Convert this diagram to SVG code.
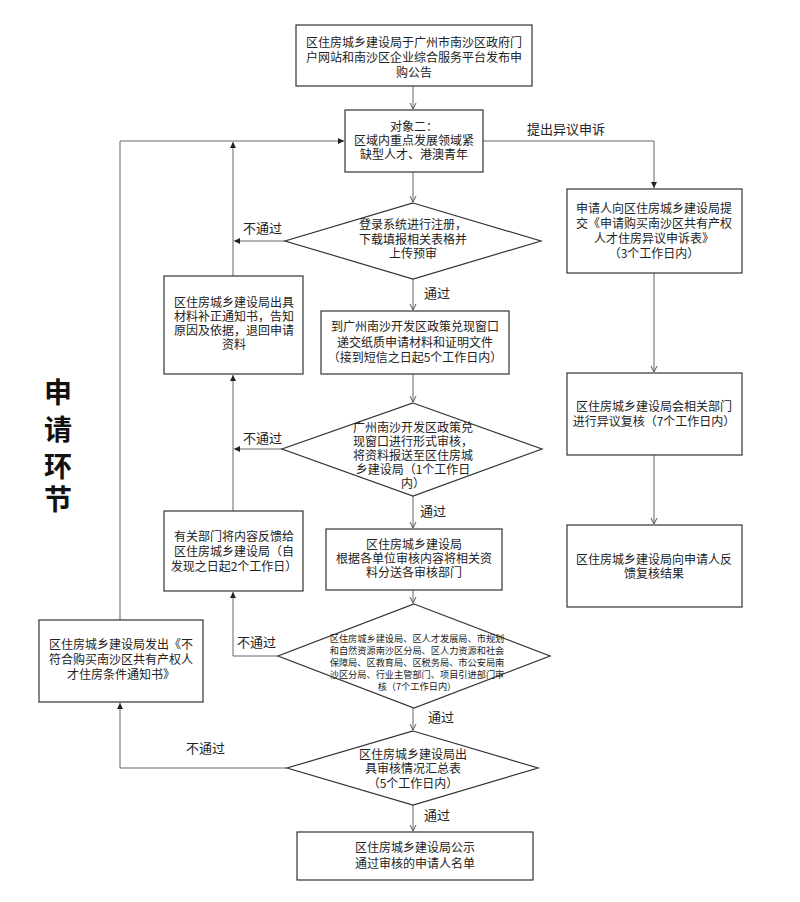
<svg xmlns="http://www.w3.org/2000/svg" width="800" height="902" viewBox="0 0 800 902">
<defs>
<style>
.box{fill:#fff;stroke:#333;stroke-width:1.2}
.t{font-family:"Noto Sans CJK SC","Liberation Sans",sans-serif;font-size:12px;fill:#222;text-anchor:middle}
.s{font-size:9.2px}
.lb{font-family:"Noto Sans CJK SC","Liberation Sans",sans-serif;font-size:13px;fill:#222}
.big{font-family:"Noto Sans CJK SC",sans-serif;font-size:28px;font-weight:bold;fill:#111;text-anchor:middle}
.ln{fill:none;stroke:#666;stroke-width:1}
</style>
<marker id="v" markerWidth="8" markerHeight="8" refX="7" refY="4" orient="auto" markerUnits="userSpaceOnUse"><path d="M1,1 L7,4 L1,7" fill="none" stroke="#555" stroke-width="1"/></marker>
<marker id="f" markerWidth="7" markerHeight="6" refX="6" refY="3" orient="auto" markerUnits="userSpaceOnUse"><path d="M0,0 L6,3 L0,6 z" fill="#222"/></marker>
</defs>
<rect width="800" height="902" fill="#fff"/>

<g id="connectors">
<path class="ln" d="M413,86 V109" marker-end="url(#v)"/>
<path class="ln" d="M413,172 V202" marker-end="url(#v)"/>
<path class="ln" d="M413,279 V310" marker-end="url(#v)"/>
<path class="ln" d="M413,374 V402" marker-end="url(#v)"/>
<path class="ln" d="M413,496 V528" marker-end="url(#v)"/>
<path class="ln" d="M413,590 V603" marker-end="url(#v)"/>
<path class="ln" d="M413,708 V730" marker-end="url(#v)"/>
<path class="ln" d="M413,805 V831" marker-end="url(#v)"/>
<path class="ln" d="M120,620 V141 H344" marker-end="url(#f)"/>
<path class="ln" d="M233,276 V142" marker-end="url(#f)"/>
<path class="ln" d="M285,241 H234" marker-end="url(#f)"/>
<path class="ln" d="M233,511 V375" marker-end="url(#f)"/>
<path class="ln" d="M282,449 H234" marker-end="url(#f)"/>
<path class="ln" d="M278,656 H233 V592" marker-end="url(#f)"/>
<path class="ln" d="M287,768 H120 V703" marker-end="url(#f)"/>
<path class="ln" d="M483,141 H654 V188" marker-end="url(#f)"/>
<path class="ln" d="M654,273 V372" marker-end="url(#v)"/>
<path class="ln" d="M654,455 V524" marker-end="url(#v)"/>
<text class="lb" x="243" y="233">不通过</text>
<text class="lb" x="243" y="443">不通过</text>
<text class="lb" x="237" y="647">不通过</text>
<text class="lb" x="186" y="753">不通过</text>
<text class="lb" x="424" y="298">通过</text>
<text class="lb" x="420" y="516">通过</text>
<text class="lb" x="428" y="722">通过</text>
<text class="lb" x="424" y="820">通过</text>
<text class="lb" x="527" y="134">提出异议申诉</text>
</g>

<g id="title">
<text class="big" x="58" y="403">申</text>
<text class="big" x="58" y="440">请</text>
<text class="big" x="58" y="477">环</text>
<text class="big" x="58" y="510">节</text>
</g>

<g id="n1"><rect class="box" x="296" y="25" width="236" height="61"/>
<text class="t" x="414" y="47">区住房城乡建设局于广州市南沙区政府门</text>
<text class="t" x="414" y="62">户网站和南沙区企业综合服务平台发布申</text>
<text class="t" x="414" y="77">购公告</text></g>

<g id="n2"><rect class="box" x="345" y="110" width="138" height="62"/>
<text class="t" x="414" y="131">对象二：</text>
<text class="t" x="414" y="145">区域内重点发展领域紧</text>
<text class="t" x="414" y="159">缺型人才、港澳青年</text></g>

<g id="d1"><polygon class="box" points="413,203 541,241 413,279 285,241"/>
<text class="t" x="413" y="229">登录系统进行注册，</text>
<text class="t" x="413" y="244">下载填报相关表格并</text>
<text class="t" x="413" y="258">上传预审</text></g>

<g id="n3"><rect class="box" x="321" y="311" width="188" height="63"/>
<text class="t" x="415" y="331">到广州南沙开发区政策兑现窗口</text>
<text class="t" x="415" y="347">递交纸质申请材料和证明文件</text>
<text class="t" x="415" y="362">（接到短信之日起5个工作日内）</text></g>

<g id="d2"><polygon class="box" points="413,403 542,449 413,496 282,449"/>
<text class="t" x="413" y="432">广州南沙开发区政策兑</text>
<text class="t" x="413" y="446">现窗口进行形式审核，</text>
<text class="t" x="413" y="460">将资料报送至区住房城</text>
<text class="t" x="413" y="474">乡建设局（1个工作日</text>
<text class="t" x="413" y="488">内）</text></g>

<g id="n4"><rect class="box" x="326" y="529" width="176" height="61"/>
<text class="t" x="414" y="549">区住房城乡建设局</text>
<text class="t" x="414" y="563">根据各单位审核内容将相关资</text>
<text class="t" x="414" y="577">料分送各审核部门</text></g>

<g id="d3"><polygon class="box" points="414,604 550,656 414,708 278,656"/>
<text class="t s" x="417" y="642">区住房城乡建设局、区人才发展局、市规划</text>
<text class="t s" x="417" y="654">和自然资源南沙区分局、区人力资源和社会</text>
<text class="t s" x="417" y="666">保障局、区教育局、区税务局、市公安局南</text>
<text class="t s" x="417" y="678">沙区分局、行业主管部门、项目引进部门审</text>
<text class="t s" x="417" y="690">核（7个工作日内）</text></g>

<g id="d4"><polygon class="box" points="413,731 538,768 413,805 287,768"/>
<text class="t" x="413" y="759">区住房城乡建设局出</text>
<text class="t" x="413" y="773">具审核情况汇总表</text>
<text class="t" x="413" y="788">（5个工作日内）</text></g>

<g id="n5"><rect class="box" x="297" y="832" width="236" height="48"/>
<text class="t" x="415" y="852">区住房城乡建设局公示</text>
<text class="t" x="415" y="868">通过审核的申请人名单</text></g>

<g id="nA"><rect class="box" x="164" y="276" width="139" height="98"/>
<text class="t" x="234" y="307">区住房城乡建设局出具</text>
<text class="t" x="234" y="321">材料补正通知书，告知</text>
<text class="t" x="234" y="335">原因及依据，退回申请</text>
<text class="t" x="234" y="349">资料</text></g>

<g id="nB"><rect class="box" x="164" y="511" width="139" height="80"/>
<text class="t" x="234" y="541">有关部门将内容反馈给</text>
<text class="t" x="234" y="556">区住房城乡建设局（自</text>
<text class="t" x="234" y="571">发现之日起2个工作日）</text></g>

<g id="nC"><rect class="box" x="39" y="620" width="164" height="82"/>
<text class="t" x="121" y="649">区住房城乡建设局发出《不</text>
<text class="t" x="121" y="664">符合购买南沙区共有产权人</text>
<text class="t" x="121" y="679">才住房条件通知书》</text></g>

<g id="r1"><rect class="box" x="567" y="189" width="175" height="84"/>
<text class="t" x="654" y="213">申请人向区住房城乡建设局提</text>
<text class="t" x="654" y="228">交《申请购买南沙区共有产权</text>
<text class="t" x="654" y="243">人才住房异议申诉表》</text>
<text class="t" x="654" y="258">（3个工作日内）</text></g>

<g id="r2"><rect class="box" x="567" y="373" width="175" height="82"/>
<text class="t" x="654" y="411">区住房城乡建设局会相关部门</text>
<text class="t" x="654" y="426">进行异议复核（7个工作日内）</text></g>

<g id="r3"><rect class="box" x="567" y="525" width="175" height="82"/>
<text class="t" x="654" y="564">区住房城乡建设局向申请人反</text>
<text class="t" x="654" y="578">馈复核结果</text></g>
</svg>
